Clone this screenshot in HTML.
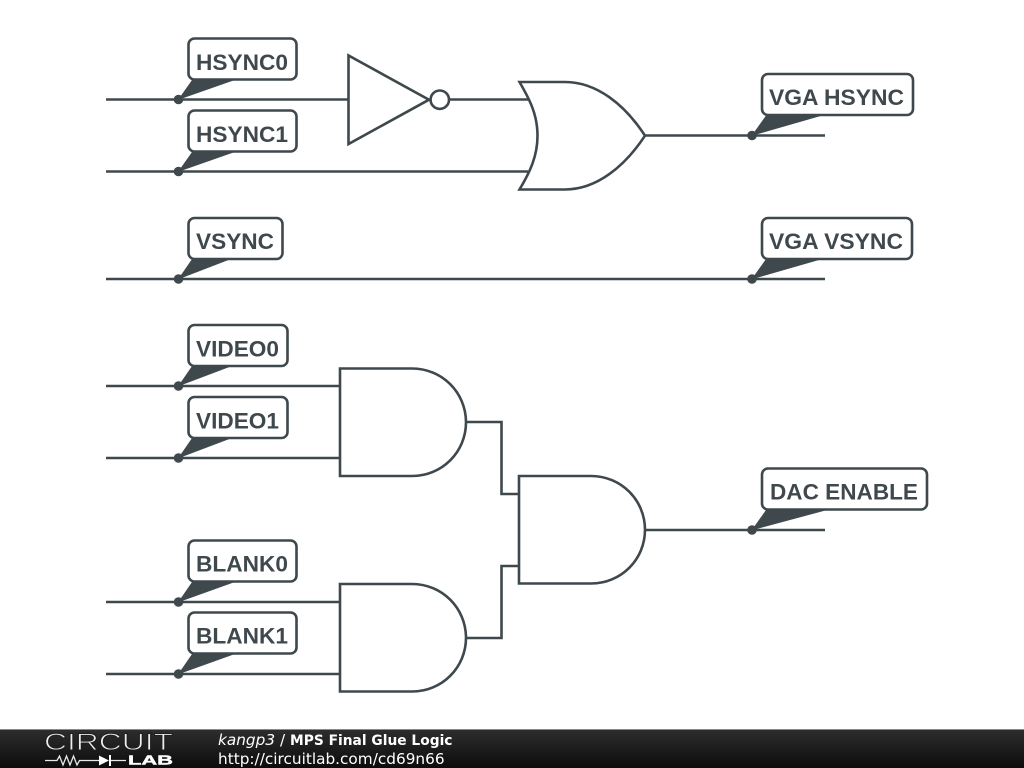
<!DOCTYPE html>
<html>
<head>
<meta charset="utf-8">
<style>
html,body{margin:0;padding:0;background:#fff;width:1024px;height:768px;overflow:hidden}
svg{display:block}
.w{fill:none;stroke:#3f484d;stroke-width:2.6}
.g{fill:#fff;stroke:#3f484d;stroke-width:2.6;stroke-linejoin:miter}
.b{fill:#fff;stroke:#3f484d;stroke-width:2.6}
.t{fill:#3f484d;stroke:#3f484d;stroke-width:.5}
.l{font-family:"Liberation Sans",sans-serif;font-size:22px;font-weight:bold;fill:#3f484d}
.f{font-family:"DejaVu Sans",sans-serif;font-size:15.3px;fill:#fff}
</style>
</head>
<body>
<svg width="1024" height="768" viewBox="0 0 1024 768" xmlns="http://www.w3.org/2000/svg">
<defs>
<linearGradient id="bar" x1="0" y1="0" x2="0" y2="1">
<stop offset="0" stop-color="#2e2e2e"/>
<stop offset="1" stop-color="#0c0c0c"/>
</linearGradient>
</defs>
<rect width="1024" height="768" fill="#fff"/>

<!-- wires -->
<path class="w" d="M106 99.500H348M440 99.500H528"/>
<path class="w" d="M106 171.500H528"/>
<path class="w" d="M645 135.500H825"/>
<path class="w" d="M106 279H825"/>
<path class="w" d="M106 386H340M106 458H340"/>
<path class="w" d="M106 602H340M106 674H340"/>
<path class="w" d="M466 422H501.500V494H519"/>
<path class="w" d="M466 638H501.500V566H519"/>
<path class="w" d="M645 530H825"/>

<!-- inverter -->
<path class="g" d="M348.500 55.500V144L429 99.700Z"/>
<circle class="g" cx="439.800" cy="99.700" r="9.200"/>

<!-- OR gate -->
<path class="g" d="M519.500 82C530 100 537.500 115 537.500 135.700C537.500 156 530 172 519.500 189.500H565C597 189.500 625 166 645 135.700C625 105 597 82 565 82Z"/>

<!-- AND gates -->
<path class="g" d="M340 368.500H412C442 368.500 466 392.500 466 422.300C466 452 442 476 412 476H340Z"/>
<path class="g" d="M340 584H412C442 584 466 608 466 637.800C466 667.500 442 691.500 412 691.500H340Z"/>
<path class="g" d="M519 476H591C621 476 645 500 645 529.800C645 559.500 621 583.500 591 583.500H519Z"/>

<!-- junction dots -->
<g fill="#3f484d">
<circle cx="178.500" cy="99.500" r="4.800"/>
<circle cx="178.500" cy="171.500" r="4.800"/>
<circle cx="178.500" cy="279" r="4.800"/>
<circle cx="178.500" cy="386" r="4.800"/>
<circle cx="178.500" cy="458" r="4.800"/>
<circle cx="178.500" cy="602" r="4.800"/>
<circle cx="178.500" cy="674" r="4.800"/>
<circle cx="752" cy="135.500" r="4.800"/>
<circle cx="752" cy="279" r="4.800"/>
<circle cx="752" cy="530" r="4.800"/>
</g>

<!-- labels -->
<path class="t" d="M178.500 99.500L193 79H237Z"/>
<rect class="b" x="188.500" y="38.500" width="108" height="41" rx="6"/>
<text class="l" x="196" y="69.800" textLength="92" lengthAdjust="spacingAndGlyphs">HSYNC0</text>

<path class="t" d="M178.500 171.500L193 151H237Z"/>
<rect class="b" x="188.500" y="110.500" width="108" height="41" rx="6"/>
<text class="l" x="196" y="141.800" textLength="92" lengthAdjust="spacingAndGlyphs">HSYNC1</text>

<path class="t" d="M178.500 279L193 258H233Z"/>
<rect class="b" x="188.500" y="218" width="94" height="41" rx="6"/>
<text class="l" x="196" y="249" textLength="78" lengthAdjust="spacingAndGlyphs">VSYNC</text>

<path class="t" d="M178.500 386L193 365H234Z"/>
<rect class="b" x="188.500" y="325" width="99" height="41" rx="6"/>
<text class="l" x="196" y="356.500" textLength="83" lengthAdjust="spacingAndGlyphs">VIDEO0</text>

<path class="t" d="M178.500 458L193 437H234Z"/>
<rect class="b" x="188.500" y="397" width="99" height="41" rx="6"/>
<text class="l" x="196" y="428.500" textLength="83" lengthAdjust="spacingAndGlyphs">VIDEO1</text>

<path class="t" d="M178.500 602L193 581H237Z"/>
<rect class="b" x="188.500" y="540.500" width="108" height="41" rx="6"/>
<text class="l" x="196" y="571.300" textLength="92" lengthAdjust="spacingAndGlyphs">BLANK0</text>

<path class="t" d="M178.500 674L193 653H237Z"/>
<rect class="b" x="188.500" y="612.500" width="108" height="41" rx="6"/>
<text class="l" x="196" y="643.300" textLength="92" lengthAdjust="spacingAndGlyphs">BLANK1</text>

<path class="t" d="M752 135.500L767 114.500H825Z"/>
<rect class="b" x="762" y="74" width="151" height="41" rx="6"/>
<text class="l" x="769" y="105" textLength="135" lengthAdjust="spacingAndGlyphs">VGA HSYNC</text>

<path class="t" d="M752 279L767 258H825Z"/>
<rect class="b" x="762" y="218" width="150" height="41" rx="6"/>
<text class="l" x="769" y="249" textLength="134" lengthAdjust="spacingAndGlyphs">VGA VSYNC</text>

<path class="t" d="M752 530L767 509H830Z"/>
<rect class="b" x="762" y="468.500" width="165" height="41" rx="6"/>
<text class="l" x="770" y="499.500" textLength="148" lengthAdjust="spacingAndGlyphs">DAC ENABLE</text>

<!-- footer -->
<rect x="0" y="729" width="1024" height="39" fill="url(#bar)"/>
<rect x="0" y="729" width="1024" height="1" fill="#8a8a8a"/>
<text x="44" y="750" font-family="Liberation Sans, sans-serif" font-size="24" fill="#eeeeee" stroke="#1f1f1f" stroke-width="0.9" textLength="129" lengthAdjust="spacingAndGlyphs">CIRCUIT</text>
<path fill="none" stroke="#e8e8e8" stroke-width="1.300" d="M45 760.500H57L59.500 756L63 765L66.500 756L70 765L73.500 756L77 765L79.500 760.500H99M111 760.500H126"/>
<path fill="#fff" d="M99 755.500L109 760.500L99 765.500Z"/>
<rect x="109" y="755" width="2" height="11" fill="#fff"/>
<text x="128" y="764.500" font-family="Liberation Sans, sans-serif" font-size="13" font-weight="bold" fill="#fff" stroke="#fff" stroke-width="0.4" textLength="45" lengthAdjust="spacingAndGlyphs">LAB</text>
<text class="f" x="218" y="745"><tspan font-style="italic">kangp3</tspan> / <tspan font-weight="bold" font-size="13.8">MPS Final Glue Logic</tspan></text>
<text class="f" x="218" y="764">http://circuitlab.com/cd69n66</text>
</svg>
</body>
</html>
